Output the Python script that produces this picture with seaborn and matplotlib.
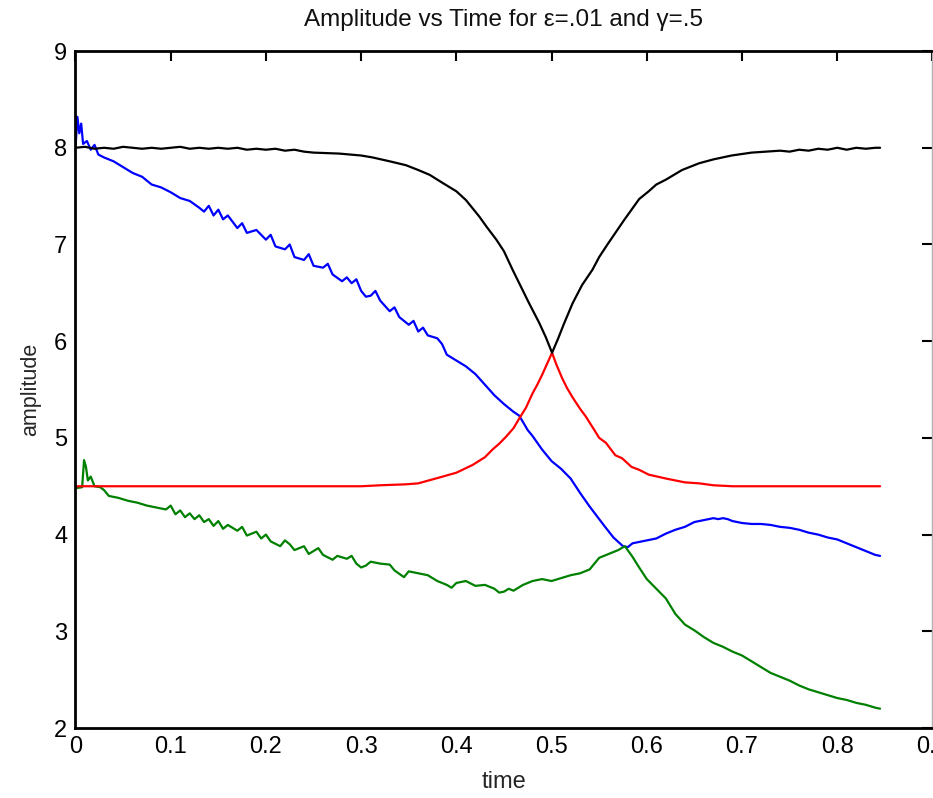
import matplotlib
matplotlib.use("Agg")
import matplotlib.pyplot as plt
import seaborn as sns
import pandas as pd

# ---------------- data ----------------
blue_t = [0.000, 0.002, 0.004, 0.006, 0.008, 0.012, 0.016, 0.020, 0.024, 0.030,
          0.040, 0.050, 0.060, 0.070, 0.080, 0.090, 0.100, 0.110, 0.120, 0.130,
          0.135, 0.140, 0.145, 0.150, 0.155, 0.160, 0.170, 0.175, 0.180, 0.190,
          0.200, 0.205, 0.210, 0.220, 0.225, 0.230, 0.240, 0.245, 0.250, 0.260,
          0.265, 0.270, 0.280, 0.285, 0.290, 0.295, 0.300, 0.305, 0.310, 0.315,
          0.320, 0.330, 0.335, 0.340, 0.350, 0.355, 0.360, 0.365, 0.370, 0.380,
          0.385, 0.390, 0.400, 0.410, 0.420, 0.430, 0.440, 0.450, 0.460, 0.466,
          0.475, 0.480, 0.490, 0.500, 0.510, 0.520, 0.530, 0.540, 0.550, 0.557,
          0.565, 0.575, 0.580, 0.585, 0.590, 0.600, 0.610, 0.620, 0.630, 0.640,
          0.650, 0.660, 0.670, 0.675, 0.680, 0.685, 0.690, 0.700, 0.710, 0.720,
          0.730, 0.740, 0.750, 0.760, 0.770, 0.780, 0.790, 0.800, 0.810, 0.820,
          0.830, 0.840, 0.845]
blue_v = [8.00, 8.32, 8.15, 8.25, 8.04, 8.07, 7.98, 8.03, 7.93, 7.90,
          7.86, 7.80, 7.74, 7.70, 7.62, 7.59, 7.54, 7.48, 7.45, 7.38,
          7.34, 7.40, 7.30, 7.36, 7.26, 7.30, 7.17, 7.22, 7.12, 7.15,
          7.05, 7.10, 6.98, 6.95, 7.00, 6.87, 6.84, 6.90, 6.78, 6.76,
          6.80, 6.69, 6.62, 6.66, 6.60, 6.64, 6.52, 6.46, 6.47, 6.52,
          6.42, 6.31, 6.35, 6.25, 6.17, 6.21, 6.10, 6.14, 6.06, 6.03,
          5.97, 5.86, 5.80, 5.74, 5.66, 5.55, 5.44, 5.35, 5.27, 5.23,
          5.08, 5.02, 4.88, 4.76, 4.68, 4.58, 4.43, 4.29, 4.16, 4.07,
          3.97, 3.88, 3.87, 3.91, 3.92, 3.94, 3.96, 4.01, 4.05, 4.08,
          4.13, 4.15, 4.17, 4.16, 4.17, 4.16, 4.14, 4.12, 4.11, 4.11,
          4.10, 4.08, 4.07, 4.05, 4.02, 4.00, 3.97, 3.95, 3.91, 3.87,
          3.83, 3.79, 3.78]

green_t = [0.000, 0.007, 0.009, 0.011, 0.013, 0.016, 0.020, 0.026, 0.030, 0.035,
           0.045, 0.055, 0.065, 0.075, 0.085, 0.095, 0.100, 0.105, 0.110, 0.115,
           0.120, 0.125, 0.130, 0.135, 0.140, 0.145, 0.150, 0.155, 0.160, 0.170,
           0.175, 0.180, 0.190, 0.195, 0.200, 0.205, 0.215, 0.220, 0.225, 0.230,
           0.240, 0.245, 0.255, 0.260, 0.270, 0.275, 0.285, 0.290, 0.295, 0.300,
           0.305, 0.310, 0.320, 0.330, 0.335, 0.345, 0.350, 0.360, 0.370, 0.380,
           0.390, 0.395, 0.400, 0.410, 0.420, 0.430, 0.440, 0.445, 0.450, 0.455,
           0.460, 0.470, 0.480, 0.490, 0.500, 0.510, 0.520, 0.530, 0.540, 0.550,
           0.560, 0.570, 0.577, 0.585, 0.592, 0.600, 0.610, 0.620, 0.630, 0.640,
           0.650, 0.660, 0.670, 0.680, 0.690, 0.700, 0.710, 0.720, 0.730, 0.740,
           0.750, 0.760, 0.770, 0.780, 0.790, 0.800, 0.810, 0.820, 0.830, 0.840,
           0.845]
green_v = [4.48, 4.49, 4.77, 4.70, 4.56, 4.60, 4.50, 4.49, 4.46, 4.40,
           4.38, 4.35, 4.33, 4.30, 4.28, 4.26, 4.30, 4.21, 4.25, 4.18,
           4.22, 4.16, 4.20, 4.13, 4.16, 4.09, 4.14, 4.06, 4.10, 4.04,
           4.08, 3.99, 4.03, 3.96, 4.00, 3.93, 3.88, 3.94, 3.90, 3.84,
           3.88, 3.80, 3.86, 3.79, 3.74, 3.78, 3.75, 3.78, 3.70, 3.66,
           3.68, 3.72, 3.70, 3.69, 3.63, 3.56, 3.62, 3.60, 3.58, 3.52,
           3.48, 3.45, 3.50, 3.52, 3.47, 3.48, 3.44, 3.40, 3.41, 3.44,
           3.42, 3.48, 3.52, 3.54, 3.52, 3.55, 3.58, 3.60, 3.64, 3.76,
           3.80, 3.84, 3.88, 3.77, 3.66, 3.54, 3.44, 3.34, 3.18, 3.07,
           3.01, 2.94, 2.88, 2.84, 2.79, 2.75, 2.69, 2.63, 2.57, 2.53,
           2.49, 2.44, 2.40, 2.37, 2.34, 2.31, 2.29, 2.26, 2.24, 2.21,
           2.20]

red_t = [0.000, 0.100, 0.200, 0.270, 0.300, 0.320, 0.347, 0.360, 0.382, 0.400,
         0.417, 0.430, 0.438, 0.445, 0.452, 0.460, 0.466, 0.473, 0.480, 0.485,
         0.490, 0.495, 0.5005, 0.505, 0.511, 0.516, 0.522, 0.530, 0.536, 0.545,
         0.550, 0.557, 0.567, 0.574, 0.584, 0.592, 0.602, 0.620, 0.640, 0.655,
         0.670, 0.690, 0.750, 0.845]
red_v = [4.50, 4.50, 4.50, 4.50, 4.50, 4.51, 4.52, 4.53, 4.59, 4.64,
         4.72, 4.80, 4.88, 4.94, 5.01, 5.10, 5.20, 5.31, 5.46, 5.55,
         5.65, 5.76, 5.88, 5.76, 5.62, 5.52, 5.42, 5.30, 5.22, 5.08,
         5.00, 4.95, 4.82, 4.79, 4.70, 4.67, 4.62, 4.58, 4.54, 4.53,
         4.51, 4.50, 4.50, 4.50]

black_t = [0.000, 0.010, 0.020, 0.030, 0.040, 0.050, 0.060, 0.070, 0.080, 0.090,
           0.100, 0.110, 0.120, 0.130, 0.140, 0.150, 0.160, 0.170, 0.180, 0.190,
           0.200, 0.210, 0.220, 0.230, 0.240, 0.250, 0.277, 0.300, 0.312, 0.330,
           0.347, 0.360, 0.372, 0.385, 0.400, 0.410, 0.424, 0.432, 0.442, 0.450,
           0.459, 0.468, 0.476, 0.487, 0.494, 0.5005, 0.507, 0.513, 0.522, 0.532,
           0.543, 0.550, 0.558, 0.567, 0.576, 0.584, 0.592, 0.602, 0.610, 0.620,
           0.637, 0.655, 0.670, 0.689, 0.710, 0.725, 0.740, 0.750, 0.760, 0.770,
           0.780, 0.790, 0.800, 0.810, 0.820, 0.830, 0.840, 0.845]
black_v = [8.00, 8.01, 7.99, 8.00, 7.99, 8.01, 8.00, 7.99, 8.00, 7.99,
           8.00, 8.01, 7.99, 8.00, 7.99, 8.00, 7.99, 8.00, 7.98, 7.99,
           7.98, 7.99, 7.97, 7.98, 7.96, 7.95, 7.94, 7.92, 7.90, 7.86,
           7.82, 7.77, 7.72, 7.64, 7.55, 7.46, 7.29, 7.18, 7.05, 6.93,
           6.74, 6.56, 6.40, 6.19, 6.04, 5.88, 6.03, 6.18, 6.39, 6.58,
           6.74, 6.87, 6.99, 7.12, 7.25, 7.36, 7.47, 7.55, 7.62, 7.67,
           7.77, 7.84, 7.88, 7.92, 7.95, 7.96, 7.97, 7.96, 7.98, 7.97,
           7.99, 7.98, 8.00, 7.98, 8.00, 7.99, 8.00, 8.00]

x_ticks = [0, 0.1, 0.2, 0.3, 0.4, 0.5, 0.6, 0.7, 0.8, 0.9]
x_tick_labels = ["0", "0.1", "0.2", "0.3", "0.4", "0.5", "0.6", "0.7", "0.8", "0.9"]
y_ticks = [2, 3, 4, 5, 6, 7, 8, 9]

series = [("blue", blue_t, blue_v, "#0000ff"),
          ("green", green_t, green_v, "#008000"),
          ("red", red_t, red_v, "#ff0000"),
          ("black", black_t, black_v, "#000000")]

# ---------------- plot ----------------
sns.set_style("white")
plt.rcParams["font.family"] = ["Liberation Sans", "DejaVu Sans"]

fig = plt.figure(figsize=(9.33, 7.98), dpi=100)
ax = fig.add_axes([0.0809, 0.0877, 0.9185, 0.8483])

for name, t, v, col in series:
    df = pd.DataFrame({"time": t, "amplitude": v})
    sns.lineplot(data=df, x="time", y="amplitude", ax=ax, color=col,
                 linewidth=1.6, estimator=None, sort=False)

ax.set_xlim(0, 0.9)
ax.set_ylim(2, 9)
ax.set_xticks(x_ticks)
ax.set_xticklabels(x_tick_labels)
ax.set_yticks(y_ticks)
ax.tick_params(direction="in", length=7, width=1.5, top=True, right=True,
               labelsize=17, colors="black", pad=6)
for side in ["left", "bottom", "top"]:
    ax.spines[side].set_color("black")
    ax.spines[side].set_linewidth(2)
ax.spines["right"].set_color("#b0b0b0")
ax.spines["right"].set_linewidth(1)

ax.set_xlabel("time", fontsize=17, labelpad=9)
ax.set_ylabel("amplitude", fontsize=15.5, labelpad=9)
ax.set_title("Amplitude vs Time for ε=.01 and γ=.5", fontsize=17.5, pad=18,
             color="#111111")

fig.savefig("out.png", dpi=100)
